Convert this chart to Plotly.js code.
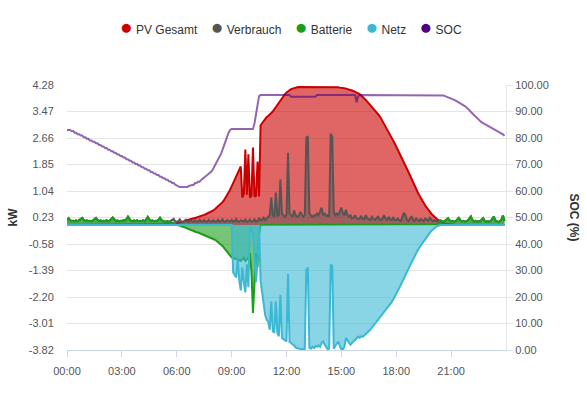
<!DOCTYPE html>
<html>
<head>
<meta charset="utf-8">
<script src="https://cdn.plot.ly/plotly-3.0.1.min.js"></script>
<style>html,body{margin:0;padding:0;background:#fff;}#chart{width:587px;height:395px;}</style>
</head>
<body>
<div id="chart"></div>
<script>
// ---- DATA (5-minute samples, 00:00 .. 23:55) ----
const kwTickLabels = ['-3.82','-3.01','-2.20','-1.39','-0.58','0.23','1.04','1.85','2.66','3.47','4.28'];
const socTickLabels = ['0.00','10.00','20.00','30.00','40.00','50.00','60.00','70.00','80.00','90.00','100.00'];
const hourTickLabels = ['00:00','03:00','06:00','09:00','12:00','15:00','18:00','21:00'];
const seriesNames = ['PV Gesamt','Verbrauch','Batterie','Netz','SOC'];

const pvGesamt = [
[0,0,0,0,0,0,0,0,0,0,0,0],
[0,0,0,0,0,0,0,0,0,0,0,0],
[0,0,0,0,0,0,0,0,0,0,0,0],
[0,0,0,0,0,0,0,0,0,0,0,0],
[0,0,0,0,0,0,0,0,0,0,0,0],
[0,0,0,0,0,0,0.01,0.01,0.02,0.02,0.03,0.04],
[0.05,0.06,0.07,0.09,0.1,0.12,0.14,0.15,0.17,0.19,0.2,0.21],
[0.22,0.23,0.25,0.26,0.28,0.29,0.31,0.33,0.35,0.37,0.39,0.42],
[0.45,0.48,0.52,0.56,0.6,0.65,0.7,0.76,0.83,0.9,0.98,1.08],
[1.18,1.28,1.38,1.5,1.62,1.72,1.79,0.84,0.95,2.31,0.93,2.16],
[0.84,0.9,2.37,0.87,0.9,1.94,0.87,3.05,3.12,3.18,3.24,3.3],
[3.33,3.37,3.41,3.47,3.54,3.61,3.68,3.75,3.82,3.88,3.94,4.0],
[4.05,4.09,4.12,4.15,4.17,4.19,4.2,4.21,4.22,4.22,4.23,4.23],
[4.23,4.23,4.23,4.23,4.23,4.23,4.22,4.23,4.23,4.23,4.22,4.22],
[4.22,4.22,4.22,4.22,4.22,4.22,4.21,4.21,4.21,4.21,4.21,4.2],
[4.2,4.19,4.18,4.17,4.16,4.15,4.13,4.11,4.09,4.07,4.05,4.02],
[4.0,3.96,3.92,3.87,3.82,3.77,3.72,3.67,3.62,3.57,3.52,3.46],
[3.4,3.34,3.26,3.18,3.1,3.02,2.94,2.85,2.76,2.67,2.58,2.49],
[2.4,2.31,2.22,2.12,2.02,1.92,1.82,1.72,1.62,1.51,1.41,1.31],
[1.21,1.11,1.01,0.92,0.83,0.75,0.67,0.6,0.53,0.46,0.4,0.35],
[0.3,0.25,0.21,0.17,0.14,0.11,0.09,0.07,0.05,0.04,0.03,0.02],
[0.01,0.01,0,0,0,0,0,0,0,0,0,0],
[0,0,0,0,0,0,0,0,0,0,0,0],
[0,0,0,0,0,0,0,0,0,0,0,0]
].flat();

const verbrauch = [
[0.14,0.21,0.15,0.12,0.13,0.11,0.14,0.12,0.15,0.19,0.22,0.16],
[0.12,0.14,0.12,0.13,0.11,0.14,0.17,0.22,0.16,0.12,0.14,0.11],
[0.13,0.12,0.15,0.11,0.13,0.17,0.23,0.18,0.12,0.14,0.11,0.13],
[0.12,0.15,0.13,0.18,0.26,0.19,0.13,0.11,0.14,0.12,0.15,0.11],
[0.13,0.12,0.15,0.11,0.18,0.25,0.17,0.12,0.14,0.11,0.13,0.12],
[0.16,0.22,0.15,0.12,0.1,0.11,0.12,0.1,0.13,0.18,0.19,0.11],
[0.1,0.12,0.17,0.1,0.09,0.12,0.16,0.1,0.1,0.15,0.11,0.1],
[0.14,0.1,0.1,0.16,0.11,0.1,0.15,0.1,0.1,0.16,0.1,0.1],
[0.15,0.11,0.1,0.16,0.1,0.12,0.17,0.1,0.1,0.15,0.11,0.1],
[0.16,0.1,0.12,0.18,0.1,0.1,0.15,0.11,0.1,0.17,0.1,0.12],
[0.16,0.1,0.11,0.17,0.1,0.12,0.2,0.14,0.16,0.22,0.15,0.2],
[0.25,0.3,0.84,0.3,0.25,0.99,0.28,0.3,1.39,0.35,0.3,0.25],
[0.3,2.21,0.35,0.3,0.25,0.45,0.3,0.25,0.28,0.4,0.3,0.25],
[0.3,2.67,2.71,0.35,0.3,0.25,0.3,0.28,0.35,0.3,0.4,0.53],
[0.3,0.35,0.28,0.3,0.25,2.79,2.7,0.4,0.3,0.35,0.3,0.45],
[0.53,0.35,0.3,0.47,0.3,0.25,0.3,0.2,0.22,0.3,0.2,0.18],
[0.2,0.28,0.18,0.17,0.3,0.2,0.18,0.15,0.25,0.18,0.15,0.2],
[0.27,0.17,0.15,0.2,0.3,0.18,0.15,0.25,0.17,0.15,0.22,0.15],
[0.15,0.2,0.14,0.12,0.25,0.37,0.3,0.15,0.12,0.18,0.27,0.15],
[0.12,0.2,0.15,0.12,0.18,0.14,0.12,0.2,0.15,0.13,0.22,0.15],
[0.12,0.15,0.12,0.1,0.12,0.14,0.12,0.1,0.13,0.16,0.21,0.14],
[0.11,0.13,0.1,0.12,0.17,0.22,0.15,0.11,0.13,0.1,0.12,0.14],
[0.2,0.26,0.15,0.11,0.13,0.1,0.12,0.11,0.16,0.21,0.13,0.1],
[0.12,0.1,0.13,0.19,0.26,0.14,0.11,0.09,0.12,0.16,0.3,0.12]
].flat();

const batterie = [
[0.14,0.21,0.15,0.12,0.13,0.11,0.14,0.12,0.15,0.19,0.22,0.16],
[0.12,0.14,0.12,0.13,0.11,0.14,0.17,0.22,0.16,0.12,0.14,0.11],
[0.13,0.12,0.15,0.11,0.13,0.17,0.23,0.18,0.12,0.14,0.11,0.13],
[0.12,0.15,0.13,0.18,0.26,0.19,0.13,0.11,0.14,0.12,0.15,0.11],
[0.13,0.12,0.15,0.11,0.18,0.25,0.17,0.12,0.14,0.11,0.13,0.12],
[0.16,0.22,0.15,0.12,0.1,0.11,0.09,0.1,0.08,0.07,0.06,0.04],
[0.02,0,-0.02,-0.04,-0.05,-0.07,-0.08,-0.1,-0.12,-0.14,-0.17,-0.2],
[-0.2,-0.22,-0.23,-0.25,-0.27,-0.28,-0.29,-0.31,-0.33,-0.35,-0.38,-0.4],
[-0.42,-0.45,-0.48,-0.52,-0.55,-0.6,-0.64,-0.7,-0.76,-0.84,-0.9,-0.96],
[-0.99,-1.0,-1.02,-1.05,-1.05,-1.08,-1.1,-1.05,-1.0,-1.1,-1.05,-1.0],
[-0.85,-1.42,-2.69,-1.73,-0.86,-1.3,-0.3,0,0,0,0,0],
[0,0,0,0,0,0,0,0,0,0,0,0],
[0,0,0,0,0,0,0,0,0,0,0,0],
[0,0,0,0,0,0,0,0,0,0,0,0],
[0,0,0,0,0,0,0,0,0,0,0,0],
[0,0,0,0,0,0,0,0,0,0,0,0],
[0,0,0,0,0,0,0,0,0,0,0,0],
[0,0,0,0,0,0,0,0,0,0,0,0],
[0,0,0,0,0,0,0,0,0,0,0,0],
[0,0,0,0,0,0,0,0,0,0,0,0],
[0,0,0,0.02,0.08,0.14,0.12,0.1,0.13,0.16,0.21,0.14],
[0.11,0.13,0.1,0.12,0.17,0.22,0.15,0.11,0.13,0.1,0.12,0.14],
[0.2,0.26,0.15,0.11,0.13,0.1,0.12,0.11,0.16,0.21,0.13,0.1],
[0.12,0.1,0.13,0.19,0.26,0.14,0.11,0.09,0.12,0.16,0.3,0.12]
].flat();

const netz = [
[0,0,0,0,0,0,0,0,0,0,0,0],
[0,0,0,0,0,0,0,0,0,0,0,0],
[0,0,0,0,0,0,0,0,0,0,0,0],
[0,0,0,0,0,0,0,0,0,0,0,0],
[0,0,0,0,0,0,0,0,0,0,0,0],
[0,0,0,0,0,0,0,0,0,0,0,0],
[0,0,0,0,0,0,0,0,0,0,0,0],
[0,0,0,0,0,0,0,0,0,0,0,0],
[0,0,0,0,0,0,0,0,0,0,0,0],
[0,-1.45,-1.55,-1.6,-1.05,-1.7,-2.0,-1.3,-1.75,-2.06,-1.2,-1.9],
[-0.05,-0.1,-0.3,-0.9,-1.75,-1.1,-0.05,-1.7,-2.1,-2.45,-2.75,-2.9],
[-2.96,-3.2,-2.34,-3.25,-3.29,-2.34,-3.3,-3.4,-2.13,-3.45,-3.5,-3.52],
[-3.56,-1.5,-3.58,-3.6,-3.65,-3.68,-3.75,-3.76,-3.78,-3.8,-3.8,-3.79],
[-3.8,-1.36,-1.3,-3.75,-3.78,-3.72,-3.76,-3.7,-3.72,-3.68,-3.72,-3.6],
[-3.56,-3.65,-3.72,-3.8,-3.78,-1.21,-1.25,-3.78,-3.7,-3.62,-3.56,-3.7],
[-3.8,-3.8,-3.72,-3.45,-3.55,-3.6,-3.66,-3.6,-3.55,-3.52,-3.45,-3.41],
[-3.45,-3.4,-3.42,-3.38,-3.35,-3.3,-3.26,-3.2,-3.14,-3.08,-3.02,-2.96],
[-2.9,-2.84,-2.78,-2.73,-2.68,-2.62,-2.56,-2.5,-2.43,-2.36,-2.28,-2.2],
[-2.1,-2.0,-1.92,-1.83,-1.74,-1.64,-1.52,-1.43,-1.34,-1.24,-1.14,-1.05],
[-0.95,-0.86,-0.78,-0.7,-0.62,-0.55,-0.5,-0.44,-0.36,-0.3,-0.24,-0.18],
[-0.13,-0.1,-0.06,-0.03,-0.01,0,0,0,0,0,0,0],
[0,0,0,0,0,0,0,0,0,0,0,0],
[0,0,0,0,0,0,0,0,0,0,0,0],
[0,0,0,0,0,0,0,0,0,0,0,0]
].flat();

const soc = [
[83.0,83.0,83.0,82.6,82.6,82.0,82.0,81.4,81.4,80.9,80.9,80.3],
[80.3,79.7,79.7,79.1,79.1,78.6,78.6,78.0,78.0,77.4,77.4,76.8],
[76.8,76.2,76.2,75.6,75.6,75.0,75.0,74.4,74.4,73.8,73.8,73.2],
[73.2,72.6,72.6,72.0,72.0,71.4,71.4,70.8,70.8,70.2,70.2,69.6],
[69.6,69.0,69.0,68.4,68.4,67.8,67.8,67.2,67.2,66.6,66.6,66.0],
[66.0,65.4,65.4,64.8,64.8,64.2,64.2,63.6,63.6,63.0,63.0,62.4],
[62.0,61.7,61.5,61.5,61.5,61.5,61.5,61.5,62.0,62.0,62.3,62.3],
[63.0,63.0,63.5,63.5,64.2,64.6,65.0,65.5,66.0,66.5,67.0,67.5],
[68.5,69.5,70.5,71.5,72.5,74.0,75.5,77.2,79.0,80.5,82.0,83.0],
[83.4,83.4,83.4,83.4,83.4,83.4,83.4,83.4,83.4,83.4,83.4,83.4],
[83.4,83.4,83.4,85.5,89.0,93.0,95.8,96.2,96.2,96.2,96.2,96.2],
[96.2,96.2,96.2,96.2,96.2,96.2,96.2,96.2,96.2,96.2,96.2,96.2],
[96.2,96.2,96.2,95.6,95.6,95.6,95.6,95.6,95.6,95.6,95.6,95.6],
[95.6,95.6,95.6,95.6,95.6,95.6,95.6,95.6,96.2,96.2,96.2,96.2],
[96.2,96.2,96.2,96.2,96.2,96.2,96.2,96.2,96.2,96.2,96.2,96.2],
[96.2,96.2,96.2,96.2,96.2,96.2,96.2,96.2,96.2,96.2,93.5,95.8],
[96.2,96.2,96.2,96.2,96.2,96.2,96.2,96.2,96.2,96.2,96.2,96.2],
[96.2,96.2,96.2,96.2,96.2,96.2,96.2,96.2,96.2,96.2,96.2,96.2],
[96.2,96.2,96.2,96.2,96.2,96.2,96.2,96.2,96.2,96.2,96.2,96.2],
[96.2,96.2,96.2,96.2,96.2,96.2,96.2,96.2,96.2,96.2,96.2,96.2],
[96.2,96.2,96.2,96.2,96.2,96.2,96.2,96.0,95.8,95.6,95.4,95.2],
[95.0,94.7,94.4,94.1,93.8,93.5,93.2,92.8,92.4,92.0,91.6,91.2],
[90.5,89.8,89.2,88.6,88.0,87.4,86.8,86.3,85.9,85.6,85.3,85.0],
[84.7,84.4,84.1,83.8,83.5,83.2,82.8,82.5,82.1,81.8,81.4,80.8]
].flat();

// ---- time axis (5-minute steps) ----
const day = '2024-06-01';
const times = [];
for (let h = 0; h < 24; h++) {
  for (let m = 0; m < 60; m += 5) {
    times.push(day + ' ' + String(h).padStart(2,'0') + ':' + String(m).padStart(2,'0'));
  }
}

const colors = {
  pv: '#cc0000', pvFill: 'rgba(204,0,0,0.6)',
  v: '#555555', vFill: 'rgba(85,85,85,0.45)',
  b: '#1a9e1a', bFill: 'rgba(26,158,26,0.6)',
  n: '#3bb8d3', nFill: 'rgba(59,184,211,0.6)',
  soc: 'rgba(75,0,130,0.6)', socLegend: '#4b0082'
};
const font = 'Liberation Sans, Arial, sans-serif';

const traces = [
  {x: times, y: pvGesamt, name: seriesNames[0], type: 'scatter', mode: 'lines', fill: 'tozeroy',
   line: {color: colors.pv, width: 2}, fillcolor: colors.pvFill, hoverinfo: 'skip'},
  {x: times, y: verbrauch, name: seriesNames[1], type: 'scatter', mode: 'lines', fill: 'tozeroy',
   line: {color: colors.v, width: 2}, fillcolor: colors.vFill, hoverinfo: 'skip'},
  {x: times, y: batterie, name: seriesNames[2], type: 'scatter', mode: 'lines', fill: 'tozeroy',
   line: {color: colors.b, width: 2}, fillcolor: colors.bFill, hoverinfo: 'skip'},
  {x: times, y: netz, name: seriesNames[3], type: 'scatter', mode: 'lines', fill: 'tozeroy',
   line: {color: colors.n, width: 2}, fillcolor: colors.nFill, hoverinfo: 'skip'},
  {x: times, y: soc, name: seriesNames[4], type: 'scatter', mode: 'lines', yaxis: 'y2',
   line: {color: colors.soc, width: 2}, hoverinfo: 'skip'}
];

// legend row (round colour dots + series names)
const legendColors = [colors.pv, colors.v, colors.b, colors.n, colors.socLegend];
const legendText = seriesNames.map((nm, i) =>
  '<span style="font-size:21px;color:' + legendColors[i] + '">\u25CF</span>&nbsp;' + nm
).join('&nbsp;&nbsp;&nbsp;&nbsp;');

const xTickVals = hourTickLabels.map(t => day + ' ' + t);

const layout = {
  width: 587, height: 395,
  margin: {l: 67, r: 81, t: 85, b: 45, pad: 0},
  paper_bgcolor: '#ffffff', plot_bgcolor: '#ffffff',
  font: {family: font, size: 11, color: '#555555'},
  showlegend: false,
  xaxis: {type: 'date', range: [day + ' 00:00', '2024-06-02 00:00'],
          tickvals: xTickVals, ticktext: hourTickLabels,
          showgrid: false, zeroline: false, showline: true, linecolor: '#ccd6eb', linewidth: 1,
          ticks: 'outside', ticklen: 6, tickcolor: '#ccd6eb', ticklabelstandoff: 5,
          tickfont: {family: font, size: 11, color: '#555555'}, fixedrange: true},
  yaxis: {range: [-3.82, 4.28], tickvals: kwTickLabels.map(Number), ticktext: kwTickLabels,
          showgrid: true, gridcolor: '#e6e6e6', zeroline: false, showline: false,
          ticks: 'outside', ticklen: 10, tickcolor: 'rgba(0,0,0,0)',
          tickfont: {family: font, size: 11, color: '#555555'},
          title: {text: '<b>kW</b>', font: {family: font, size: 12, color: '#333333'}, standoff: 8},
          fixedrange: true},
  yaxis2: {overlaying: 'y', side: 'right', range: [0, 100],
           tickvals: socTickLabels.map(Number), ticktext: socTickLabels,
           showgrid: false, zeroline: false, showline: true, linecolor: '#e6e6e6', linewidth: 1,
           ticks: 'outside', ticklen: 6, tickcolor: '#e6e6e6',
           tickfont: {family: font, size: 11, color: '#555555'}, fixedrange: true},
  annotations: [
    {text: legendText, xref: 'paper', yref: 'paper', x: 0.51, y: 1.222,
     xanchor: 'center', yanchor: 'middle', showarrow: false,
     font: {family: font, size: 12, color: '#333333'}},
    {text: '<b>SOC (%)</b>', xref: 'paper', yref: 'paper', x: 1.155, y: 0.5,
     xanchor: 'center', yanchor: 'middle', textangle: 90, showarrow: false,
     font: {family: font, size: 12, color: '#333333'}}
  ]
};

Plotly.newPlot('chart', traces, layout, {displayModeBar: false, staticPlot: true});
</script>
</body>
</html>
